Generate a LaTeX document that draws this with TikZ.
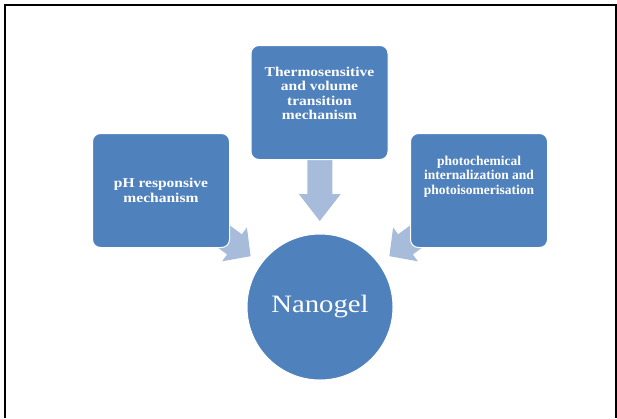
\documentclass[tikz,border=0pt]{standalone}
\usepackage{fontspec}
\setmainfont{Liberation Serif}
\newfontfamily\widefont[FakeStretch=1.15]{Liberation Serif}
\usetikzlibrary{calc,backgrounds}

\definecolor{boxblue}{RGB}{79,129,189}
\definecolor{arrowblue}{RGB}{167,187,219}

\tikzset{
	mechbox/.style={draw=white, line width=1pt, fill=boxblue, rounded corners=8pt,
		minimum width=137pt, minimum height=114pt},
	mechtext/.style={text=white, align=center, inner sep=0pt,
		font={\widefont\bfseries\fontsize{13.5}{14.5}\selectfont}},
	gel/.style={circle, draw=white, line width=1pt, fill=boxblue, text=white,
		minimum size=146pt, font={\widefont\fontsize{25}{30}\selectfont}}
}

\begin{document}
\begin{tikzpicture}[x=1pt, y=-1pt]
	\useasboundingbox (0,0) rectangle (617,418);
	\draw[line width=2pt] (4.5,418) -- (4.5,4.5) -- (615.5,4.5) -- (615.5,418);
	% the three mechanisms and the gel
	\node[mechbox] (thermo) at (319.5,102.5) {};
	\node[mechbox] (ph) at (161,190.5) {};
	\node[mechbox] (photo) at (479,190.5) {};
	\node[gel] (nano) at (320,307) {Nanogel};
	\node[mechtext] (thermotext) at ([yshift=9pt]thermo.center) {Thermosensitive\\and volume\\transition\\mechanism};
	\node[mechtext] (phtext) at (ph.center) {pH responsive\\mechanism};
	\node[mechtext, font={\bfseries\fontsize{13.5}{14.5}\selectfont}] (phototext) at ([yshift=14pt]photo.center) {photochemical\\internalization and\\photoisomerisation};
	% arrows behind the boxes
	\begin{pgfonlayer}{background}
		\foreach \from/\ang/\hl in {ph/-36.2/20, thermo/-90/27, photo/-143.8/20}
		{
			\coordinate (\from tip) at ($(nano.center)!86pt!(\from.center)$);
			\fill[arrowblue, shift={(\from tip)}, rotate=\ang] (0,0) -- (-\hl,21) -- (-\hl,12.5) -- (-70,12.5) -- (-70,-12.5) -- (-\hl,-12.5) -- (-\hl,-21) -- cycle;
		}
	\end{pgfonlayer}
\end{tikzpicture}
\end{document}
